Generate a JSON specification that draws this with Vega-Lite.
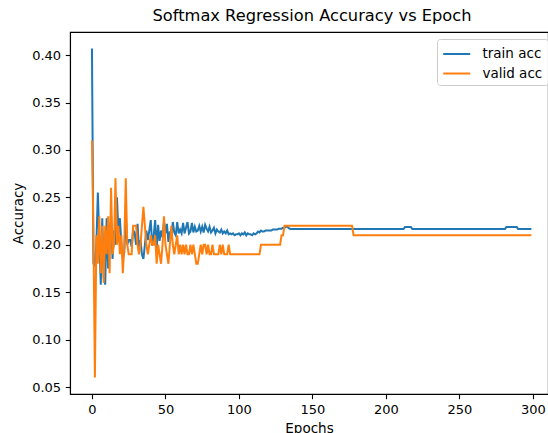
{
"$schema": "https://vega.github.io/schema/vega-lite/v6.json",
"autosize": {"type": "none"},
"padding": {"left": 70, "top": 32, "right": 0, "bottom": 39},
"width": 478,
"height": 362,
"title": {"text": "Softmax Regression Accuracy vs Epoch", "font": "DejaVu Sans", "fontSize": 16.25, "fontWeight": "normal", "color": "black", "offset": 8, "dx": 3},
"config": {
  "view": {"stroke": "black", "strokeWidth": 1.1},
  "axis": {"grid": false, "domainColor": "black", "domainWidth": 1.1, "tickColor": "black", "tickWidth": 1.1, "tickSize": 4.7, "labelPadding": 4.7, "labelFont": "DejaVu Sans", "labelFontSize": 13, "labelColor": "black", "titleFont": "DejaVu Sans", "titleFontSize": 13.5, "titleFontWeight": "normal", "titleColor": "black"},
  "legend": {"orient": "none", "legendX": 367, "legendY": 7, "title": null, "symbolType": "M-1,0L2.086,0", "symbolSize": 306, "symbolStrokeWidth": 2, "labelFont": "DejaVu Sans", "labelFontSize": 13.5, "labelColor": "black", "labelOffset": 20.5, "padding": 5, "rowPadding": 2.5, "fillColor": "rgba(255,255,255,0.8)", "strokeColor": "#cccccc", "cornerRadius": 3}
},
"data": {"values": [
{"epoch":0,"train acc":0.407,"valid acc":0.31},
{"epoch":1,"train acc":0.180,"valid acc":0.21},
{"epoch":2,"train acc":0.178,"valid acc":0.06},
{"epoch":3,"train acc":0.200,"valid acc":0.21},
{"epoch":4,"train acc":0.255,"valid acc":0.18},
{"epoch":5,"train acc":0.205,"valid acc":0.23},
{"epoch":6,"train acc":0.158,"valid acc":0.17},
{"epoch":7,"train acc":0.228,"valid acc":0.22},
{"epoch":8,"train acc":0.165,"valid acc":0.16},
{"epoch":9,"train acc":0.158,"valid acc":0.22},
{"epoch":10,"train acc":0.228,"valid acc":0.19},
{"epoch":11,"train acc":0.175,"valid acc":0.23},
{"epoch":12,"train acc":0.200,"valid acc":0.17},
{"epoch":13,"train acc":0.230,"valid acc":0.26},
{"epoch":14,"train acc":0.185,"valid acc":0.19},
{"epoch":15,"train acc":0.215,"valid acc":0.20},
{"epoch":16,"train acc":0.200,"valid acc":0.27},
{"epoch":17,"train acc":0.250,"valid acc":0.20},
{"epoch":18,"train acc":0.212,"valid acc":0.22},
{"epoch":19,"train acc":0.228,"valid acc":0.19},
{"epoch":20,"train acc":0.200,"valid acc":0.21},
{"epoch":21,"train acc":0.185,"valid acc":0.17},
{"epoch":22,"train acc":0.192,"valid acc":0.20},
{"epoch":23,"train acc":0.232,"valid acc":0.27},
{"epoch":24,"train acc":0.200,"valid acc":0.20},
{"epoch":25,"train acc":0.205,"valid acc":0.19},
{"epoch":26,"train acc":0.205,"valid acc":0.19},
{"epoch":27,"train acc":0.198,"valid acc":0.19},
{"epoch":28,"train acc":0.215,"valid acc":0.22},
{"epoch":29,"train acc":0.213,"valid acc":0.22},
{"epoch":30,"train acc":0.200,"valid acc":0.22},
{"epoch":31,"train acc":0.222,"valid acc":0.20},
{"epoch":32,"train acc":0.195,"valid acc":0.19},
{"epoch":33,"train acc":0.205,"valid acc":0.20},
{"epoch":34,"train acc":0.190,"valid acc":0.22},
{"epoch":35,"train acc":0.185,"valid acc":0.24},
{"epoch":36,"train acc":0.200,"valid acc":0.22},
{"epoch":37,"train acc":0.215,"valid acc":0.20},
{"epoch":38,"train acc":0.205,"valid acc":0.19},
{"epoch":39,"train acc":0.215,"valid acc":0.20},
{"epoch":40,"train acc":0.226,"valid acc":0.21},
{"epoch":41,"train acc":0.199,"valid acc":0.20},
{"epoch":42,"train acc":0.210,"valid acc":0.20},
{"epoch":43,"train acc":0.226,"valid acc":0.21},
{"epoch":44,"train acc":0.195,"valid acc":0.18},
{"epoch":45,"train acc":0.221,"valid acc":0.20},
{"epoch":46,"train acc":0.204,"valid acc":0.19},
{"epoch":47,"train acc":0.215,"valid acc":0.18},
{"epoch":48,"train acc":0.208,"valid acc":0.20},
{"epoch":49,"train acc":0.225,"valid acc":0.23},
{"epoch":50,"train acc":0.212,"valid acc":0.20},
{"epoch":51,"train acc":0.222,"valid acc":0.19},
{"epoch":52,"train acc":0.203,"valid acc":0.18},
{"epoch":53,"train acc":0.214,"valid acc":0.20},
{"epoch":54,"train acc":0.208,"valid acc":0.22},
{"epoch":55,"train acc":0.224,"valid acc":0.20},
{"epoch":56,"train acc":0.213,"valid acc":0.19},
{"epoch":57,"train acc":0.210,"valid acc":0.20},
{"epoch":58,"train acc":0.224,"valid acc":0.21},
{"epoch":59,"train acc":0.212,"valid acc":0.19},
{"epoch":60,"train acc":0.216,"valid acc":0.20},
{"epoch":61,"train acc":0.212,"valid acc":0.19},
{"epoch":62,"train acc":0.223,"valid acc":0.20},
{"epoch":63,"train acc":0.212,"valid acc":0.19},
{"epoch":64,"train acc":0.218,"valid acc":0.20},
{"epoch":65,"train acc":0.224,"valid acc":0.19},
{"epoch":66,"train acc":0.212,"valid acc":0.19},
{"epoch":67,"train acc":0.214,"valid acc":0.20},
{"epoch":68,"train acc":0.223,"valid acc":0.19},
{"epoch":69,"train acc":0.213,"valid acc":0.20},
{"epoch":70,"train acc":0.219,"valid acc":0.19},
{"epoch":71,"train acc":0.214,"valid acc":0.18},
{"epoch":72,"train acc":0.215,"valid acc":0.18},
{"epoch":73,"train acc":0.220,"valid acc":0.19},
{"epoch":74,"train acc":0.214,"valid acc":0.20},
{"epoch":75,"train acc":0.219,"valid acc":0.19},
{"epoch":76,"train acc":0.213,"valid acc":0.20},
{"epoch":77,"train acc":0.221,"valid acc":0.20},
{"epoch":78,"train acc":0.217,"valid acc":0.19},
{"epoch":79,"train acc":0.214,"valid acc":0.20},
{"epoch":80,"train acc":0.219,"valid acc":0.19},
{"epoch":81,"train acc":0.213,"valid acc":0.19},
{"epoch":82,"train acc":0.215,"valid acc":0.20},
{"epoch":83,"train acc":0.218,"valid acc":0.19},
{"epoch":84,"train acc":0.212,"valid acc":0.19},
{"epoch":85,"train acc":0.216,"valid acc":0.19},
{"epoch":86,"train acc":0.214,"valid acc":0.19},
{"epoch":87,"train acc":0.213,"valid acc":0.20},
{"epoch":88,"train acc":0.216,"valid acc":0.19},
{"epoch":89,"train acc":0.212,"valid acc":0.20},
{"epoch":90,"train acc":0.214,"valid acc":0.19},
{"epoch":91,"train acc":0.212,"valid acc":0.19},
{"epoch":92,"train acc":0.215,"valid acc":0.19},
{"epoch":93,"train acc":0.211,"valid acc":0.20},
{"epoch":94,"train acc":0.212,"valid acc":0.19},
{"epoch":95,"train acc":0.211,"valid acc":0.19},
{"epoch":96,"train acc":0.212,"valid acc":0.19},
{"epoch":97,"train acc":0.210,"valid acc":0.19},
{"epoch":98,"train acc":0.211,"valid acc":0.19},
{"epoch":99,"train acc":0.211,"valid acc":0.19},
{"epoch":100,"train acc":0.212,"valid acc":0.19},
{"epoch":101,"train acc":0.210,"valid acc":0.19},
{"epoch":102,"train acc":0.212,"valid acc":0.19},
{"epoch":103,"train acc":0.211,"valid acc":0.19},
{"epoch":104,"train acc":0.213,"valid acc":0.19},
{"epoch":105,"train acc":0.210,"valid acc":0.19},
{"epoch":106,"train acc":0.212,"valid acc":0.19},
{"epoch":107,"train acc":0.211,"valid acc":0.19},
{"epoch":108,"train acc":0.211,"valid acc":0.19},
{"epoch":109,"train acc":0.210,"valid acc":0.19},
{"epoch":110,"train acc":0.212,"valid acc":0.19},
{"epoch":111,"train acc":0.211,"valid acc":0.19},
{"epoch":112,"train acc":0.212,"valid acc":0.19},
{"epoch":113,"train acc":0.214,"valid acc":0.19},
{"epoch":114,"train acc":0.213,"valid acc":0.19},
{"epoch":115,"train acc":0.215,"valid acc":0.20},
{"epoch":116,"train acc":0.214,"valid acc":0.20},
{"epoch":117,"train acc":0.214,"valid acc":0.20},
{"epoch":118,"train acc":0.215,"valid acc":0.20},
{"epoch":119,"train acc":0.215,"valid acc":0.20},
{"epoch":120,"train acc":0.215,"valid acc":0.20},
{"epoch":121,"train acc":0.215,"valid acc":0.20},
{"epoch":122,"train acc":0.215,"valid acc":0.20},
{"epoch":123,"train acc":0.216,"valid acc":0.20},
{"epoch":124,"train acc":0.216,"valid acc":0.20},
{"epoch":125,"train acc":0.216,"valid acc":0.20},
{"epoch":126,"train acc":0.216,"valid acc":0.20},
{"epoch":127,"train acc":0.217,"valid acc":0.20},
{"epoch":128,"train acc":0.217,"valid acc":0.20},
{"epoch":129,"train acc":0.217,"valid acc":0.21},
{"epoch":130,"train acc":0.218,"valid acc":0.21},
{"epoch":131,"train acc":0.218,"valid acc":0.22},
{"epoch":132,"train acc":0.219,"valid acc":0.22},
{"epoch":133,"train acc":0.219,"valid acc":0.22},
{"epoch":134,"train acc":0.2175,"valid acc":0.22},
{"epoch":135,"train acc":0.2166,"valid acc":0.22},
{"epoch":136,"train acc":0.2166,"valid acc":0.22},
{"epoch":137,"train acc":0.2166,"valid acc":0.22},
{"epoch":138,"train acc":0.2166,"valid acc":0.22},
{"epoch":139,"train acc":0.2166,"valid acc":0.22},
{"epoch":140,"train acc":0.2166,"valid acc":0.22},
{"epoch":141,"train acc":0.2166,"valid acc":0.22},
{"epoch":142,"train acc":0.2166,"valid acc":0.22},
{"epoch":143,"train acc":0.2166,"valid acc":0.22},
{"epoch":144,"train acc":0.2166,"valid acc":0.22},
{"epoch":145,"train acc":0.2166,"valid acc":0.22},
{"epoch":146,"train acc":0.2166,"valid acc":0.22},
{"epoch":147,"train acc":0.2166,"valid acc":0.22},
{"epoch":148,"train acc":0.2166,"valid acc":0.22},
{"epoch":149,"train acc":0.2166,"valid acc":0.22},
{"epoch":150,"train acc":0.2166,"valid acc":0.22},
{"epoch":151,"train acc":0.2166,"valid acc":0.22},
{"epoch":152,"train acc":0.2166,"valid acc":0.22},
{"epoch":153,"train acc":0.2166,"valid acc":0.22},
{"epoch":154,"train acc":0.2166,"valid acc":0.22},
{"epoch":155,"train acc":0.2166,"valid acc":0.22},
{"epoch":156,"train acc":0.2166,"valid acc":0.22},
{"epoch":157,"train acc":0.2166,"valid acc":0.22},
{"epoch":158,"train acc":0.2166,"valid acc":0.22},
{"epoch":159,"train acc":0.2166,"valid acc":0.22},
{"epoch":160,"train acc":0.2166,"valid acc":0.22},
{"epoch":161,"train acc":0.2166,"valid acc":0.22},
{"epoch":162,"train acc":0.2166,"valid acc":0.22},
{"epoch":163,"train acc":0.2166,"valid acc":0.22},
{"epoch":164,"train acc":0.2166,"valid acc":0.22},
{"epoch":165,"train acc":0.2166,"valid acc":0.22},
{"epoch":166,"train acc":0.2166,"valid acc":0.22},
{"epoch":167,"train acc":0.2166,"valid acc":0.22},
{"epoch":168,"train acc":0.2166,"valid acc":0.22},
{"epoch":169,"train acc":0.2166,"valid acc":0.22},
{"epoch":170,"train acc":0.2166,"valid acc":0.22},
{"epoch":171,"train acc":0.2166,"valid acc":0.22},
{"epoch":172,"train acc":0.2166,"valid acc":0.22},
{"epoch":173,"train acc":0.2166,"valid acc":0.22},
{"epoch":174,"train acc":0.2166,"valid acc":0.22},
{"epoch":175,"train acc":0.2166,"valid acc":0.22},
{"epoch":176,"train acc":0.2166,"valid acc":0.22},
{"epoch":177,"train acc":0.2166,"valid acc":0.22},
{"epoch":178,"train acc":0.2166,"valid acc":0.21},
{"epoch":179,"train acc":0.2166,"valid acc":0.21},
{"epoch":180,"train acc":0.2166,"valid acc":0.21},
{"epoch":181,"train acc":0.2166,"valid acc":0.21},
{"epoch":182,"train acc":0.2166,"valid acc":0.21},
{"epoch":183,"train acc":0.2166,"valid acc":0.21},
{"epoch":184,"train acc":0.2166,"valid acc":0.21},
{"epoch":185,"train acc":0.2166,"valid acc":0.21},
{"epoch":186,"train acc":0.2166,"valid acc":0.21},
{"epoch":187,"train acc":0.2166,"valid acc":0.21},
{"epoch":188,"train acc":0.2166,"valid acc":0.21},
{"epoch":189,"train acc":0.2166,"valid acc":0.21},
{"epoch":190,"train acc":0.2166,"valid acc":0.21},
{"epoch":191,"train acc":0.2166,"valid acc":0.21},
{"epoch":192,"train acc":0.2166,"valid acc":0.21},
{"epoch":193,"train acc":0.2166,"valid acc":0.21},
{"epoch":194,"train acc":0.2166,"valid acc":0.21},
{"epoch":195,"train acc":0.2166,"valid acc":0.21},
{"epoch":196,"train acc":0.2166,"valid acc":0.21},
{"epoch":197,"train acc":0.2166,"valid acc":0.21},
{"epoch":198,"train acc":0.2166,"valid acc":0.21},
{"epoch":199,"train acc":0.2166,"valid acc":0.21},
{"epoch":200,"train acc":0.2166,"valid acc":0.21},
{"epoch":201,"train acc":0.2166,"valid acc":0.21},
{"epoch":202,"train acc":0.2166,"valid acc":0.21},
{"epoch":203,"train acc":0.2166,"valid acc":0.21},
{"epoch":204,"train acc":0.2166,"valid acc":0.21},
{"epoch":205,"train acc":0.2166,"valid acc":0.21},
{"epoch":206,"train acc":0.2166,"valid acc":0.21},
{"epoch":207,"train acc":0.2166,"valid acc":0.21},
{"epoch":208,"train acc":0.2166,"valid acc":0.21},
{"epoch":209,"train acc":0.2166,"valid acc":0.21},
{"epoch":210,"train acc":0.2166,"valid acc":0.21},
{"epoch":211,"train acc":0.2166,"valid acc":0.21},
{"epoch":212,"train acc":0.2166,"valid acc":0.21},
{"epoch":213,"train acc":0.2187,"valid acc":0.21},
{"epoch":214,"train acc":0.2187,"valid acc":0.21},
{"epoch":215,"train acc":0.2187,"valid acc":0.21},
{"epoch":216,"train acc":0.2187,"valid acc":0.21},
{"epoch":217,"train acc":0.2187,"valid acc":0.21},
{"epoch":218,"train acc":0.2166,"valid acc":0.21},
{"epoch":219,"train acc":0.2166,"valid acc":0.21},
{"epoch":220,"train acc":0.2166,"valid acc":0.21},
{"epoch":221,"train acc":0.2166,"valid acc":0.21},
{"epoch":222,"train acc":0.2166,"valid acc":0.21},
{"epoch":223,"train acc":0.2166,"valid acc":0.21},
{"epoch":224,"train acc":0.2166,"valid acc":0.21},
{"epoch":225,"train acc":0.2166,"valid acc":0.21},
{"epoch":226,"train acc":0.2166,"valid acc":0.21},
{"epoch":227,"train acc":0.2166,"valid acc":0.21},
{"epoch":228,"train acc":0.2166,"valid acc":0.21},
{"epoch":229,"train acc":0.2166,"valid acc":0.21},
{"epoch":230,"train acc":0.2166,"valid acc":0.21},
{"epoch":231,"train acc":0.2166,"valid acc":0.21},
{"epoch":232,"train acc":0.2166,"valid acc":0.21},
{"epoch":233,"train acc":0.2166,"valid acc":0.21},
{"epoch":234,"train acc":0.2166,"valid acc":0.21},
{"epoch":235,"train acc":0.2166,"valid acc":0.21},
{"epoch":236,"train acc":0.2166,"valid acc":0.21},
{"epoch":237,"train acc":0.2166,"valid acc":0.21},
{"epoch":238,"train acc":0.2166,"valid acc":0.21},
{"epoch":239,"train acc":0.2166,"valid acc":0.21},
{"epoch":240,"train acc":0.2166,"valid acc":0.21},
{"epoch":241,"train acc":0.2166,"valid acc":0.21},
{"epoch":242,"train acc":0.2166,"valid acc":0.21},
{"epoch":243,"train acc":0.2166,"valid acc":0.21},
{"epoch":244,"train acc":0.2166,"valid acc":0.21},
{"epoch":245,"train acc":0.2166,"valid acc":0.21},
{"epoch":246,"train acc":0.2166,"valid acc":0.21},
{"epoch":247,"train acc":0.2166,"valid acc":0.21},
{"epoch":248,"train acc":0.2166,"valid acc":0.21},
{"epoch":249,"train acc":0.2166,"valid acc":0.21},
{"epoch":250,"train acc":0.2166,"valid acc":0.21},
{"epoch":251,"train acc":0.2166,"valid acc":0.21},
{"epoch":252,"train acc":0.2166,"valid acc":0.21},
{"epoch":253,"train acc":0.2166,"valid acc":0.21},
{"epoch":254,"train acc":0.2166,"valid acc":0.21},
{"epoch":255,"train acc":0.2166,"valid acc":0.21},
{"epoch":256,"train acc":0.2166,"valid acc":0.21},
{"epoch":257,"train acc":0.2166,"valid acc":0.21},
{"epoch":258,"train acc":0.2166,"valid acc":0.21},
{"epoch":259,"train acc":0.2166,"valid acc":0.21},
{"epoch":260,"train acc":0.2166,"valid acc":0.21},
{"epoch":261,"train acc":0.2166,"valid acc":0.21},
{"epoch":262,"train acc":0.2166,"valid acc":0.21},
{"epoch":263,"train acc":0.2166,"valid acc":0.21},
{"epoch":264,"train acc":0.2166,"valid acc":0.21},
{"epoch":265,"train acc":0.2166,"valid acc":0.21},
{"epoch":266,"train acc":0.2166,"valid acc":0.21},
{"epoch":267,"train acc":0.2166,"valid acc":0.21},
{"epoch":268,"train acc":0.2166,"valid acc":0.21},
{"epoch":269,"train acc":0.2166,"valid acc":0.21},
{"epoch":270,"train acc":0.2166,"valid acc":0.21},
{"epoch":271,"train acc":0.2166,"valid acc":0.21},
{"epoch":272,"train acc":0.2166,"valid acc":0.21},
{"epoch":273,"train acc":0.2166,"valid acc":0.21},
{"epoch":274,"train acc":0.2166,"valid acc":0.21},
{"epoch":275,"train acc":0.2166,"valid acc":0.21},
{"epoch":276,"train acc":0.2166,"valid acc":0.21},
{"epoch":277,"train acc":0.2166,"valid acc":0.21},
{"epoch":278,"train acc":0.2166,"valid acc":0.21},
{"epoch":279,"train acc":0.2166,"valid acc":0.21},
{"epoch":280,"train acc":0.2166,"valid acc":0.21},
{"epoch":281,"train acc":0.2166,"valid acc":0.21},
{"epoch":282,"train acc":0.2187,"valid acc":0.21},
{"epoch":283,"train acc":0.2187,"valid acc":0.21},
{"epoch":284,"train acc":0.2187,"valid acc":0.21},
{"epoch":285,"train acc":0.2187,"valid acc":0.21},
{"epoch":286,"train acc":0.2187,"valid acc":0.21},
{"epoch":287,"train acc":0.2187,"valid acc":0.21},
{"epoch":288,"train acc":0.2187,"valid acc":0.21},
{"epoch":289,"train acc":0.2187,"valid acc":0.21},
{"epoch":290,"train acc":0.2166,"valid acc":0.21},
{"epoch":291,"train acc":0.2166,"valid acc":0.21},
{"epoch":292,"train acc":0.2166,"valid acc":0.21},
{"epoch":293,"train acc":0.2166,"valid acc":0.21},
{"epoch":294,"train acc":0.2166,"valid acc":0.21},
{"epoch":295,"train acc":0.2166,"valid acc":0.21},
{"epoch":296,"train acc":0.2166,"valid acc":0.21},
{"epoch":297,"train acc":0.2166,"valid acc":0.21},
{"epoch":298,"train acc":0.2166,"valid acc":0.21},
{"epoch":299,"train acc":0.2166,"valid acc":0.21}
]},
"transform": [{"fold": ["train acc", "valid acc"], "as": ["series", "acc"]}],
"mark": {"type": "line", "strokeWidth": 2, "clip": true},
"encoding": {
  "x": {"field": "epoch", "type": "quantitative", "title": "Epochs", "scale": {"domain": [-14.95, 310.3], "nice": false, "zero": false}, "axis": {"values": [0, 50, 100, 150, 200, 250, 300], "titlePadding": 5}},
  "y": {"field": "acc", "type": "quantitative", "title": "Accuracy", "scale": {"domain": [0.04265, 0.42435], "nice": false, "zero": false}, "axis": {"values": [0.05, 0.1, 0.15, 0.2, 0.25, 0.3, 0.35, 0.4], "format": ".2f", "titlePadding": 6}},
  "color": {"field": "series", "type": "nominal", "scale": {"domain": ["train acc", "valid acc"], "range": ["#1f77b4", "#ff7f0e"]}}
}
}
